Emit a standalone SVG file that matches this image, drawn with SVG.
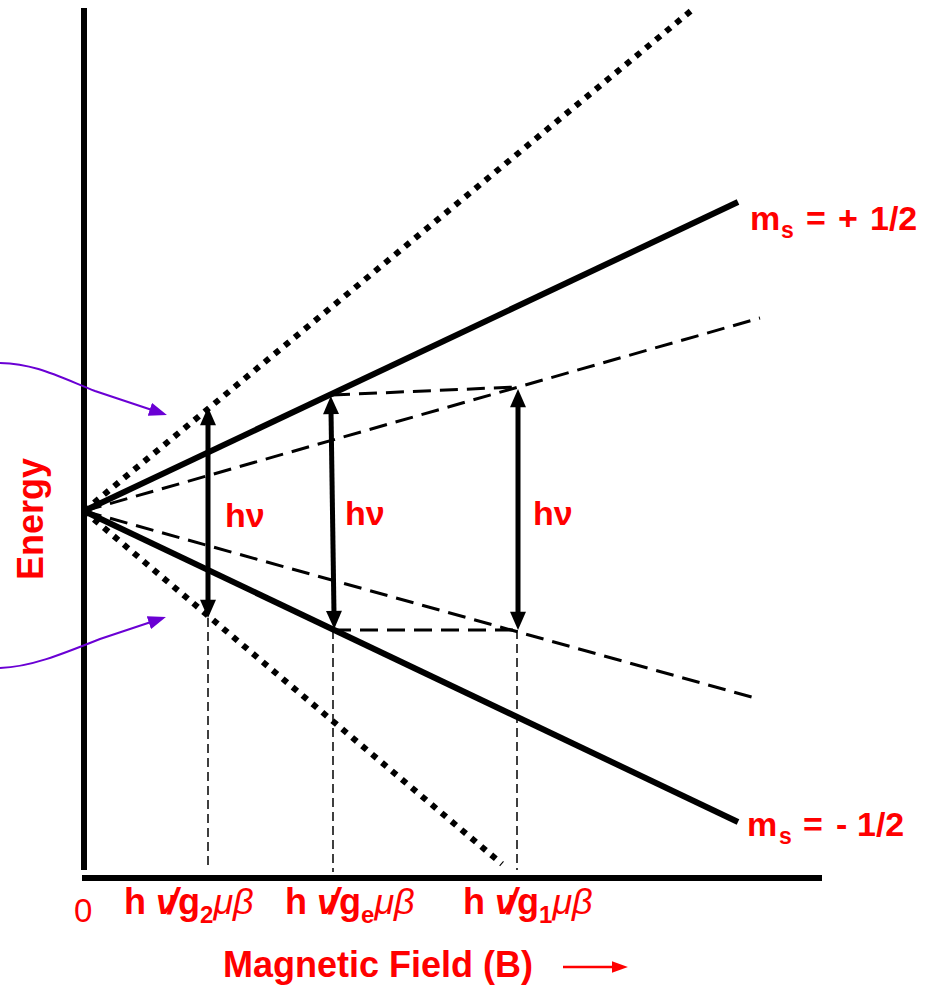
<svg xmlns="http://www.w3.org/2000/svg" width="936" height="985" viewBox="0 0 936 985">
<style>
.axis{stroke:#000;stroke-width:6;fill:none}
.solid{stroke:#000;stroke-width:6;fill:none}
.dotted{stroke:#000;stroke-width:6;stroke-dasharray:6 7;fill:none}
.dashed{stroke:#000;stroke-width:3;stroke-dasharray:18 9;fill:none}
.guide{stroke:#000;stroke-width:1.5;stroke-dasharray:9 5;fill:none}
.dbl{stroke:#000;stroke-width:5;fill:none;marker-start:url(#ah);marker-end:url(#ah)}
.purple{stroke:#6a00d4;stroke-width:2;fill:none;marker-end:url(#ahp)}
.red{fill:#ff0000;font-family:"Liberation Sans",Arial,sans-serif;font-weight:bold}
.gk{font-style:italic;font-weight:normal}
</style>
<defs>
<marker id="ah" markerUnits="userSpaceOnUse" markerWidth="20" markerHeight="16" viewBox="0 0 17 15" refX="3" refY="7.5" orient="auto-start-reverse"><path d="M0,0 L17,7.5 L0,15 z" fill="#000"/></marker>
<marker id="ahp" markerUnits="userSpaceOnUse" markerWidth="18" markerHeight="14" viewBox="0 0 16 12" refX="2" refY="6" orient="auto"><path d="M0,0 L16,6 L0,12 z" fill="#6a00d4"/></marker>
<marker id="ahr" markerUnits="userSpaceOnUse" markerWidth="16" markerHeight="12" viewBox="0 0 15 11" refX="1" refY="5.5" orient="auto"><path d="M0,0 L15,5.5 L0,11 z" fill="#ff0000"/></marker>
</defs>

<g id="axes">
<line class="axis" x1="84" y1="8" x2="84" y2="870"/>
<line class="axis" x1="82" y1="878" x2="822" y2="878"/>
</g>

<g id="levels">
<line class="solid" x1="84" y1="511" x2="738" y2="202"/>
<line class="solid" x1="84" y1="511" x2="738" y2="822"/>
<line class="dotted" x1="84" y1="511" x2="692" y2="10"/>
<line class="dotted" x1="84" y1="511" x2="502" y2="864"/>
<line class="dashed" x1="84" y1="511" x2="760" y2="318"/>
<line class="dashed" x1="84" y1="511" x2="755" y2="698"/>
<line class="dashed" x1="332" y1="395" x2="516" y2="387"/>
<line class="dashed" x1="333" y1="630" x2="518" y2="630"/>
</g>

<g id="guides">
<line class="guide" x1="208" y1="618" x2="208" y2="870"/>
<line class="guide" x1="333" y1="630" x2="333" y2="872"/>
<line class="guide" x1="517" y1="630" x2="517" y2="870"/>
</g>

<g id="connectors">
<line class="dbl" x1="208" y1="422" x2="208" y2="603"/>
<line class="dbl" x1="331" y1="411" x2="334" y2="614"/>
<line class="dbl" x1="518" y1="404" x2="518" y2="615"/>
<path class="purple" d="M0,363 C35,364 55,375 95,391 L152,410"/>
<path class="purple" d="M0,668 C30,667 60,655 100,639 L151,622"/>
<line x1="563" y1="967" x2="613" y2="967" stroke="#ff0000" stroke-width="2.5" marker-end="url(#ahr)"/>
</g>

<g id="labels">
<text class="red" font-size="34" x="225" y="527">hν</text>
<text class="red" font-size="34" x="345" y="525">hν</text>
<text class="red" font-size="34" x="533" y="525">hν</text>

<text class="red" font-size="34" y="230"><tspan x="750">m</tspan><tspan x="781" dy="8" font-size="23">s</tspan><tspan x="806" dy="-8">=</tspan><tspan x="838">+</tspan><tspan x="870">1/2</tspan></text>
<text class="red" font-size="34" y="836"><tspan x="747">m</tspan><tspan x="779" dy="8" font-size="23">s</tspan><tspan x="803" dy="-8">=</tspan><tspan x="836">-</tspan><tspan x="857">1/2</tspan></text>

<text class="red" font-size="36" transform="translate(43,519) rotate(-90)" text-anchor="middle">Energy</text>
<text class="red" font-size="36" x="223" y="977">Magnetic Field (B)</text>

<text x="74" y="922" font-family="Liberation Sans,Arial,sans-serif" font-size="33" fill="#ff0000">0</text>

<text class="red" font-size="36" x="124" y="914">h <tspan font-style="italic" letter-spacing="-8">ν/</tspan><tspan dx="8">g</tspan><tspan dy="9" font-size="24">2</tspan><tspan class="gk" dy="-9">μβ</tspan></text>
<text class="red" font-size="36" x="285" y="914">h <tspan font-style="italic" letter-spacing="-8">ν/</tspan><tspan dx="8">g</tspan><tspan dy="9" font-size="24">e</tspan><tspan class="gk" dy="-9">μβ</tspan></text>
<text class="red" font-size="36" x="463" y="914">h <tspan font-style="italic" letter-spacing="-8">ν/</tspan><tspan dx="8">g</tspan><tspan dy="9" font-size="24">1</tspan><tspan class="gk" dy="-9">μβ</tspan></text>
</g>
</svg>
